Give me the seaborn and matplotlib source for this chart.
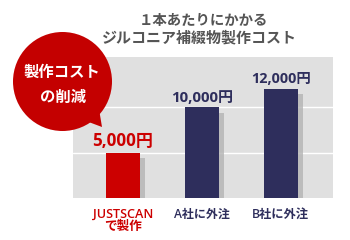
import matplotlib
matplotlib.use("Agg")
import matplotlib.pyplot as plt
import matplotlib.patheffects as pe
from matplotlib.patches import Circle, Polygon
from matplotlib.transforms import IdentityTransform
import seaborn as sns
import pandas as pd

categories = ["JUSTSCAN\nで製作", "A社に外注", "B社に外注"]
values = [5000, 10000, 12000]
value_labels = ["5,000円", "10,000円", "12,000円"]
title_lines = ["１本あたりにかかる", "ジルコニア補綴物製作コスト"]
bubble_lines = ["製作コスト", "の削減"]

RED = "#cc0000"
NAVY = "#2e2e5c"
colors = [RED, NAVY, NAVY]

sns.set_theme(style="white")
plt.rcParams["font.family"] = ["Open Sans", "Noto Sans CJK JP", "DejaVu Sans"]

df = pd.DataFrame({"cat": categories, "val": values})

W, H = 350, 240
fig = plt.figure(figsize=(3.5, 2.4), dpi=100)
ax = fig.add_axes([73 / W, 1 - 198 / H, 260 / W, 141 / H])
ax.set_facecolor("#e0e0e0")

sns.barplot(data=df, x="cat", y="val", hue="cat", palette=colors,
            width=0.43, saturation=1, legend=False, ax=ax, zorder=3)
for p in ax.patches:
    p.set_linewidth(0)
    p.set_path_effects([pe.SimplePatchShadow(offset=(3.6, -4.0),
                                             shadow_rgbFace="#b4b4b4", alpha=0.8),
                        pe.Normal()])

ax.set_xlim(-0.63, 2.66)
ax.set_ylim(0, 15500)
ax.set_yticks([5000, 10000])
ax.yaxis.grid(True, color="white", linewidth=1)
ax.set_axisbelow(True)
ax.tick_params(axis="y", left=False, labelleft=False)
ax.tick_params(axis="x", bottom=False, pad=1)
for s in ax.spines.values():
    s.set_visible(False)
ax.set_xlabel("")
ax.set_ylabel("")

fits = []

def ftext(s, x, y, w, **kw):
    t = fig.text(x / W, 1 - y / H, s, ha="center", va="center", **kw)
    fits.append((t, w))
    return t

ftext(title_lines[0], 203.5, 21, 129, fontweight="bold", color="#555555", fontsize=10)
ftext(title_lines[1], 199.5, 38, 195, fontweight="bold", color="#555555", fontsize=10)

# speech bubble
bub = "#c40000"
circ = Circle((62.5, H - 81.5), 49.5, transform=IdentityTransform(),
              facecolor=bub, edgecolor="none", zorder=10)
fig.patches.append(circ)
tail = Polygon([(86, H - 121), (102, H - 127), (99, H - 109)], closed=True,
               transform=IdentityTransform(), facecolor=bub, edgecolor="none", zorder=10)
fig.patches.append(tail)
ftext(bubble_lines[0], 61.5, 73, 77, fontweight="bold", color="white", fontsize=11, zorder=11)
ftext(bubble_lines[1], 63, 98, 46, fontweight="bold", color="white", fontsize=11, zorder=11)

# value labels
label_widths = [61, 62, 60]
label_gaps = [11.5, 9.5, 10]
for i, (v, t, c, w, g) in enumerate(zip(values, value_labels, colors, label_widths, label_gaps)):
    a = ax.annotate(t, (i, v), xytext=(0, g * 72 / 100), textcoords="offset points",
                    ha="center", va="center", fontsize=10.5, fontweight="bold",
                    color=c, zorder=5)
    fits.append((a, w))

tick_widths = [60, 56, 57]
for lbl, c in zip(ax.get_xticklabels(), colors):
    lbl.set_color(c)
    lbl.set_fontsize(8.5)
    lbl.set_fontweight("semibold")
    lbl.set_linespacing(0.95)

fig.canvas.draw()
r = fig.canvas.get_renderer()
for _ in range(3):
    for t, w in fits:
        cur = t.get_window_extent(r).width
        t.set_fontsize(t.get_fontsize() * w / cur)
    for lbl, w in zip(ax.get_xticklabels(), tick_widths):
        cur = lbl.get_window_extent(r).width
        lbl.set_fontsize(lbl.get_fontsize() * w / cur)
    fig.canvas.draw()

fig.savefig("out.png", dpi=100)
